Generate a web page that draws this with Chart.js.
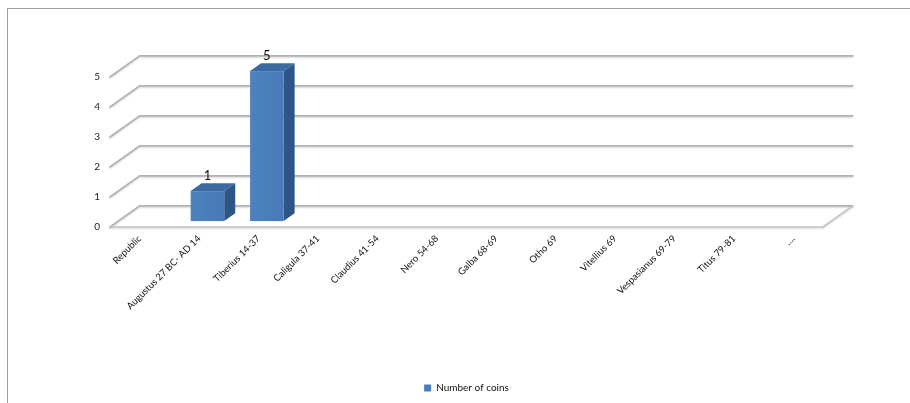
<!DOCTYPE html>
<html>
<head>
<meta charset="utf-8">
<title>Number of coins</title>
<script src="https://cdn.jsdelivr.net/npm/chart.js@4.4.1/dist/chart.umd.min.js"></script>
<style>
  html, body { margin: 0; padding: 0; background: #fff; overflow: hidden; }
  #wrap { position: relative; width: 910px; height: 403px; }
  #frame {
    position: absolute; left: 7px; top: 8px; width: 920px; height: 410px;
    border-left: 1px solid #9c9c9c; border-top: 1px solid #9c9c9c;
    pointer-events: none;
  }
  canvas { position: absolute; left: 0; top: 0; }
</style>
</head>
<body>
<div id="wrap">
  <canvas id="chart" width="910" height="403"></canvas>
  <div id="frame"></div>
</div>
<script>
// Reigns (categories) and coin counts
const categories = [
  'Republic',
  'Augustus 27 BC- AD 14',
  'Tiberius 14-37',
  'Caligula 37-41',
  'Claudius 41-54',
  'Nero 54-68',
  'Galba 68-69',
  'Otho 69',
  'Vitellius 69',
  'Vespasianus 69-79',
  'Titus 79-81',
  '….'
];
const coinCounts = [null, 1, 5, null, null, null, null, null, null, null, null, null];
const seriesName = 'Number of coins';
const yTicks = [0, 1, 2, 3, 4, 5];

const FONT = 'Lato, "Open Sans", "Liberation Sans", sans-serif';
const FRONT = '#4a7ebb', TOP = '#3b69a2', SIDE = '#2d5686';
const GRID = '#b2b2b2';

// depth of the 3D box relative to category width
function depth(chart) {
  const xs = chart.scales.x;
  const cw = xs.width / categories.length;
  const dx = cw * 0.5;
  return { dx: dx, dy: -dx * 0.71 };
}

const wallsPlugin = {
  id: 'walls3d',
  beforeDatasetsDraw(chart) {
    const { ctx } = chart;
    const xs = chart.scales.x, ys = chart.scales.y;
    const { dx, dy } = depth(chart);
    const L = xs.left, R = xs.right;
    ctx.save();
    ctx.lineCap = 'round';
    ctx.strokeStyle = GRID;
    ctx.lineWidth = 1.6;
    ctx.shadowColor = 'rgba(0,0,0,0.18)';
    ctx.shadowBlur = 2;
    ctx.shadowOffsetY = 1;
    yTicks.forEach(v => {
      const y = ys.getPixelForValue(v);
      ctx.beginPath();
      ctx.moveTo(L, y);
      ctx.lineTo(L + dx, y + dy);
      ctx.lineTo(R + dx, y + dy);
      ctx.stroke();
    });
    const y0 = ys.getPixelForValue(0);
    ctx.strokeStyle = '#c4c4c4';
    ctx.beginPath();
    ctx.moveTo(L, y0);
    ctx.lineTo(R, y0);
    ctx.lineTo(R + dx, y0 + dy);
    ctx.stroke();
    ctx.restore();
  },
  beforeDatasetDraw() {
    // the boxes are drawn by afterDatasetsDraw
    return false;
  },
  afterDatasetsDraw(chart) {
    const { ctx } = chart;
    const { dx, dy } = depth(chart);
    const f0 = 0.28, f1 = 0.37;
    const meta = chart.getDatasetMeta(0);
    const data = chart.data.datasets[0].data;
    ctx.save();
    meta.data.forEach((bar, i) => {
      const v = data[i];
      if (v === null || v === undefined) return;
      const p = bar.getProps(['x', 'y', 'base', 'width'], true);
      const x0 = p.x - p.width / 2 + f0 * dx;
      const x1 = p.x + p.width / 2 + f0 * dx;
      const top = p.y + f0 * dy;
      const bot = p.base + f0 * dy;
      const ox = f1 * dx, oy = f1 * dy;
      // side face
      ctx.fillStyle = SIDE;
      ctx.beginPath();
      ctx.moveTo(x1, top);
      ctx.lineTo(x1 + ox, top + oy);
      ctx.lineTo(x1 + ox, bot + oy);
      ctx.lineTo(x1, bot);
      ctx.closePath();
      ctx.fill();
      // top face
      ctx.fillStyle = TOP;
      ctx.beginPath();
      ctx.moveTo(x0, top);
      ctx.lineTo(x1, top);
      ctx.lineTo(x1 + ox, top + oy);
      ctx.lineTo(x0 + ox, top + oy);
      ctx.closePath();
      ctx.fill();
      // front face
      const g = ctx.createLinearGradient(x0, 0, x1, 0);
      g.addColorStop(0, '#4d82c0');
      g.addColorStop(1, '#477ab6');
      ctx.fillStyle = g;
      ctx.fillRect(x0, top, x1 - x0, bot - top);
      // value label
      ctx.fillStyle = '#111';
      ctx.font = '13px ' + FONT;
      ctx.textAlign = 'center';
      ctx.textBaseline = 'middle';
      ctx.fillText(String(v), (x0 + x1) / 2, top + oy - 7);
    });
    ctx.restore();
  }
};

new Chart(document.getElementById('chart'), {
  type: 'bar',
  data: {
    labels: categories,
    datasets: [{
      label: seriesName,
      data: coinCounts,
      backgroundColor: FRONT,
      borderWidth: 0,
      barPercentage: 0.565,
      categoryPercentage: 1.0
    }]
  },
  options: {
    responsive: false,
    animation: false,
    events: [],
    layout: { padding: { top: 77, right: 87, left: 0, bottom: 0 } },
    scales: {
      x: {
        offset: true,
        grid: { display: false, drawTicks: false },
        border: { display: false },
        ticks: {
          autoSkip: false,
          maxRotation: 45,
          minRotation: 45,
          padding: 6,
          color: '#111',
          font: { family: FONT, size: 9.5 }
        },
        afterFit(s) { s.height = 146; s.paddingLeft = 0; s.paddingRight = 0; }
      },
      y: {
        min: 0,
        max: 5,
        grid: { display: false, drawTicks: false },
        border: { display: false },
        ticks: {
          stepSize: 1,
          padding: 10,
          color: '#222',
          font: { family: FONT, size: 10 }
        },
        afterFit(s) { s.width = 110; s.paddingTop = 0; s.paddingBottom = 0; }
      }
    },
    plugins: {
      tooltip: { enabled: false },
      legend: {
        position: 'bottom',
        fullSize: false,
        labels: {
          boxWidth: 7,
          boxHeight: 7,
          padding: 10,
          color: '#111',
          font: { family: FONT, size: 10 }
        }
      }
    }
  },
  plugins: [wallsPlugin]
});
</script>
</body>
</html>
